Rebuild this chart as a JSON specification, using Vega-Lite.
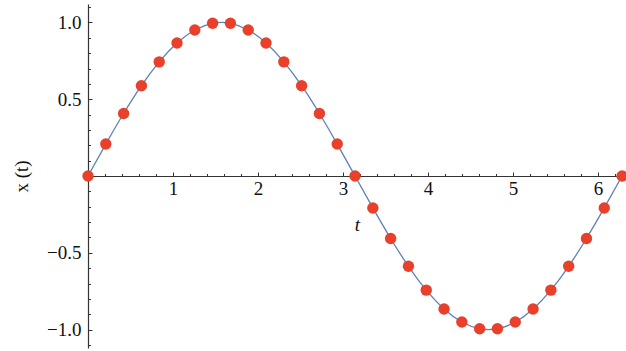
{
  "$schema": "https://vega.github.io/schema/vega-lite/v6.json",
  "width": 538,
  "height": 344,
  "autosize": {"type": "none"},
  "padding": {"left": 88, "top": 4, "right": 0, "bottom": 3},
  "background": "white",
  "config": {
    "view": {"stroke": null},
    "axis": {"grid": false, "domainColor": "#333", "tickColor": "#333"}
  },
  "data": {"values": [
    {"t": 0.0, "x": 0.0},
    {"t": 0.20944, "x": 0.20791},
    {"t": 0.41888, "x": 0.40674},
    {"t": 0.62832, "x": 0.58779},
    {"t": 0.83776, "x": 0.74314},
    {"t": 1.0472, "x": 0.86603},
    {"t": 1.25664, "x": 0.95106},
    {"t": 1.46608, "x": 0.99452},
    {"t": 1.67552, "x": 0.99452},
    {"t": 1.88496, "x": 0.95106},
    {"t": 2.0944, "x": 0.86603},
    {"t": 2.30383, "x": 0.74314},
    {"t": 2.51327, "x": 0.58779},
    {"t": 2.72271, "x": 0.40674},
    {"t": 2.93215, "x": 0.20791},
    {"t": 3.14159, "x": 0.0},
    {"t": 3.35103, "x": -0.20791},
    {"t": 3.56047, "x": -0.40674},
    {"t": 3.76991, "x": -0.58779},
    {"t": 3.97935, "x": -0.74314},
    {"t": 4.18879, "x": -0.86603},
    {"t": 4.39823, "x": -0.95106},
    {"t": 4.60767, "x": -0.99452},
    {"t": 4.81711, "x": -0.99452},
    {"t": 5.02655, "x": -0.95106},
    {"t": 5.23599, "x": -0.86603},
    {"t": 5.44543, "x": -0.74314},
    {"t": 5.65487, "x": -0.58779},
    {"t": 5.86431, "x": -0.40674},
    {"t": 6.07375, "x": -0.20791},
    {"t": 6.28319, "x": 0.0}
  ]},
  "layer": [
    {
      "mark": {"type": "line", "color": "#5E81B5", "strokeWidth": 1.3, "interpolate": "natural"},
      "encoding": {
        "x": {"field": "t", "type": "quantitative", "scale": {"domain": [0, 6.3294], "nice": false, "zero": false},
          "axis": {"orient": "bottom", "offset": -172, "values": [1, 2, 3, 4, 5, 6], "tickSize": -4, "labelPadding": 7,
            "labelFont": "Liberation Serif", "labelFontSize": 19, "labelColor": "#111",
            "title": "t", "titleFont": "Liberation Serif", "titleFontSize": 19, "titleFontWeight": "normal", "titleColor": "#111", "titleFontStyle": "italic", "titlePadding": 17, "domainWidth": 1.2}},
        "y": {"field": "x", "type": "quantitative", "scale": {"domain": [-1.12, 1.12], "nice": false, "zero": false},
          "axis": {"orient": "left", "values": [-1, -0.5, 0.5, 1], "format": ".1f", "tickSize": -4, "labelPadding": 11,
            "labelFont": "Liberation Serif", "labelFontSize": 19, "labelColor": "#111",
            "title": "x (t)", "titleFont": "Liberation Serif", "titleFontSize": 19, "titleFontWeight": "normal", "titleColor": "#111", "titlePadding": 15, "domainWidth": 1.2}}
      }
    },
    {
      "mark": {"type": "point", "filled": true, "color": "#E8402A", "opacity": 1, "size": 130},
      "encoding": {
        "x": {"field": "t", "type": "quantitative",
          "axis": {"orient": "bottom", "offset": -172, "values": [0.2, 0.4, 0.6, 0.8, 1.2, 1.4, 1.6, 1.8, 2.2, 2.4, 2.6, 2.8, 3.2, 3.4, 3.6, 3.8, 4.2, 4.4, 4.6, 4.8, 5.2, 5.4, 5.6, 5.8, 6.2], "tickSize": -2.5, "labels": false, "domain": false, "title": null}},
        "y": {"field": "x", "type": "quantitative",
          "axis": {"orient": "left", "values": [-1.1, -0.9, -0.8, -0.7, -0.6, -0.4, -0.3, -0.2, -0.1, 0.1, 0.2, 0.3, 0.4, 0.6, 0.7, 0.8, 0.9, 1.1], "tickSize": -2.5, "labels": false, "domain": false, "title": null}}
      }
    }
  ],
  "resolve": {"axis": {"x": "independent", "y": "independent"}}
}
